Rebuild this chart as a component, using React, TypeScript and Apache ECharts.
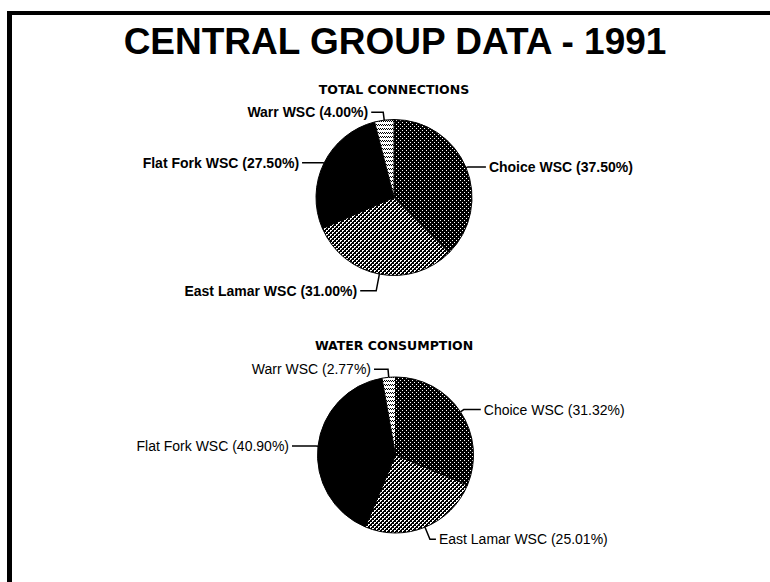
import React, { useEffect, useRef } from "react";
import * as echarts from "echarts";

const categories = ["Choice WSC", "East Lamar WSC", "Flat Fork WSC", "Warr WSC"];
const connectionValues = [37.5, 31.0, 27.5, 4.0];
const consumptionValues = [31.32, 25.01, 40.9, 2.77];
const mainTitle = "CENTRAL GROUP DATA - 1991";
const subTitles = ["TOTAL CONNECTIONS", "WATER CONSUMPTION"];

function makePattern(size: number, bg: string, fg: string, pts: number[][]) {
  const c = document.createElement("canvas");
  c.width = size;
  c.height = size;
  const ctx = c.getContext("2d")!;
  ctx.fillStyle = bg;
  ctx.fillRect(0, 0, size, size);
  ctx.fillStyle = fg;
  pts.forEach(([x, y]) => ctx.fillRect(x, y, 1, 1));
  return { image: c as any, repeat: "repeat" as const };
}

export default function App() {
  const ref = useRef<HTMLDivElement>(null);
  useEffect(() => {
    if (!ref.current) return;
    const chart = echarts.init(ref.current, undefined, { renderer: "svg" });
    const patterns: any[] = [
      makePattern(4, "#000", "#fff", [[0, 0], [2, 2]]),
      makePattern(4, "#000", "#fff", [[0, 0], [1, 0], [0, 1], [2, 2], [3, 2], [2, 3]]),
      "#000",
      makePattern(4, "#fff", "#000", [[0, 0], [2, 0], [1, 1], [3, 1]]),
    ];
    const font = "'Liberation Sans', Arial, sans-serif";
    const lineLens1 = [[2, 18], [17, 16], [1, 21], [8, 12]];
    const lineLens2 = [[4, 17], [13, 6], [2, 24], [8, 14]];
    const makeSeries = (values: number[], center: number[], lens: number[][], weight: string) => ({
      type: "pie",
      center,
      radius: 78,
      startAngle: 90,
      clockwise: true,
      avoidLabelOverlap: false,
      silent: true,
      itemStyle: { borderColor: "#000", borderWidth: 1 },
      label: {
        show: true,
        position: "outside",
        color: "#000",
        fontFamily: font,
        fontWeight: weight,
        fontSize: 14,
        distanceToLabelLine: 3,
        formatter: (p: any) => `${p.name} (${Number(p.value).toFixed(2)}%)`,
      },
      labelLine: { show: true, smooth: false, lineStyle: { color: "#000", width: 1.5 } },
      data: categories.map((name, i) => ({
        name,
        value: values[i],
        itemStyle: { color: patterns[i] },
        labelLine: { length: lens[i][0], length2: lens[i][1] },
      })),
    });
    chart.setOption({
      animation: false,
      backgroundColor: "#fff",
      graphic: [
        { type: "rect", shape: { x: 7, y: 11, width: 763, height: 4 }, style: { fill: "#000" } },
        { type: "rect", shape: { x: 7, y: 11, width: 5, height: 571 }, style: { fill: "#000" } },
        {
          type: "text",
          x: 395,
          y: 41,
          style: { text: mainTitle, fontSize: 37, fontWeight: "bold", fontFamily: font, fill: "#000", align: "center", verticalAlign: "middle" },
        },
        {
          type: "text",
          x: 394,
          y: 89,
          style: { text: subTitles[0], fontSize: 12.5, fontWeight: "bold", fontFamily: "'DejaVu Sans', sans-serif", fill: "#000", align: "center", verticalAlign: "middle" },
        },
        {
          type: "text",
          x: 394,
          y: 345,
          style: { text: subTitles[1], fontSize: 12.5, fontWeight: "bold", fontFamily: "'DejaVu Sans', sans-serif", fill: "#000", align: "center", verticalAlign: "middle" },
        },
      ],
      series: [
        makeSeries(connectionValues, [394, 197.5], lineLens1, "bold"),
        makeSeries(consumptionValues, [395.5, 455], lineLens2, "normal"),
      ],
    });
    return () => chart.dispose();
  }, []);
  return <div ref={ref} style={{ position: "absolute", left: 0, top: 0, width: 770, height: 582 }} />;
}
